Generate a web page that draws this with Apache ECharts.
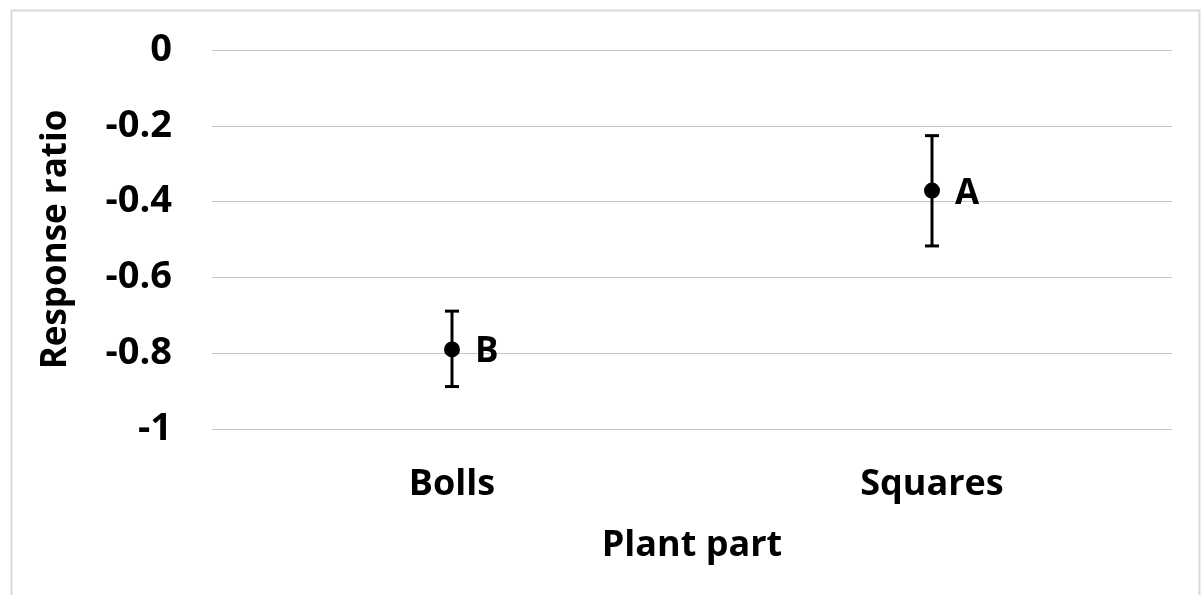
<!DOCTYPE html>
<html>
<head>
<meta charset="utf-8">
<script src="https://cdn.jsdelivr.net/npm/echarts@6/dist/echarts.min.js"></script>
<style>
	html, body { margin: 0; padding: 0; background: #fff; }
	#chart { width: 1204px; height: 595px; }
</style>
</head>
<body>
<div id="chart"></div>
<script>
	// data
	var categories = ['Bolls', 'Squares'];
	var means = [-0.79, -0.371];
	var errLow = [-0.888, -0.517];   // bottom of error bar
	var errHigh = [-0.689, -0.226];  // top of error bar
	var letters = ['B', 'A'];

	var FONT = '"Open Sans", "Liberation Sans", sans-serif';

	var chart = echarts.init(document.getElementById('chart'));

	var barData = categories.map(function (c, i) {
		return [i, errLow[i], errHigh[i]];
	});

	var option = {
		animation: false,
		graphic: [{
			type: 'rect',
			shape: { x: 11.5, y: 10.5, width: 1188, height: 620 },
			style: { fill: 'none', stroke: '#d9d9d9', lineWidth: 2 },
			silent: true
		}],
		grid: {
			left: 212,
			right: 32,
			top: 50,
			bottom: 166
		},
		xAxis: {
			type: 'category',
			data: categories,
			boundaryGap: true,
			axisLine: { show: false },
			axisTick: { show: false },
			axisLabel: {
				color: '#000',
				fontFamily: FONT,
				fontWeight: 'bold',
				fontSize: 36,
				margin: 38
			},
			name: 'Plant part',
			nameLocation: 'middle',
			nameGap: 99,
			nameTextStyle: {
				color: '#000',
				fontFamily: FONT,
				fontWeight: 'bold',
				fontSize: 36
			}
		},
		yAxis: {
			type: 'value',
			min: -1,
			max: 0,
			interval: 0.2,
			axisLine: { show: false },
			axisTick: { show: false },
			splitLine: { lineStyle: { color: '#c6c6c6', width: 1 } },
			axisLabel: {
				color: '#000',
				fontFamily: FONT,
				fontWeight: 'bold',
				fontSize: 38,
				margin: 40,
				formatter: function (v) {
					return String(Math.round(v * 10) / 10);
				}
			},
			name: 'Response ratio',
			nameLocation: 'middle',
			nameRotate: 90,
			nameGap: 138,
			nameTextStyle: {
				color: '#000',
				fontFamily: FONT,
				fontWeight: 'bold',
				fontSize: 35
			}
		},
		series: [{
			type: 'custom',
			data: barData,
			z: 2,
			renderItem: function (params, api) {
				var x = api.value(0);
				var lo = api.coord([x, api.value(1)]);
				var hi = api.coord([x, api.value(2)]);
				var half = 7;
				var st = { stroke: '#000', lineWidth: 3 };
				return {
					type: 'group',
					children: [
						{ type: 'line', shape: { x1: lo[0], y1: lo[1], x2: hi[0], y2: hi[1] }, style: st },
						{ type: 'line', shape: { x1: hi[0] - half, y1: hi[1], x2: hi[0] + half, y2: hi[1] }, style: st },
						{ type: 'line', shape: { x1: lo[0] - half, y1: lo[1], x2: lo[0] + half, y2: lo[1] }, style: st }
					]
				};
			}
		}, {
			type: 'scatter',
			data: means,
			z: 3,
			symbol: 'circle',
			symbolSize: 16,
			itemStyle: { color: '#000', opacity: 1 },
			label: {
				show: true,
				position: 'right',
				distance: 15,
				offset: [0, 3],
				color: '#000',
				opacity: 1,
				fontFamily: FONT,
				fontWeight: 'bold',
				fontSize: 35,
				formatter: function (p) {
					return letters[p.dataIndex];
				}
			}
		}]
	};

	chart.setOption(option);
</script>
</body>
</html>
